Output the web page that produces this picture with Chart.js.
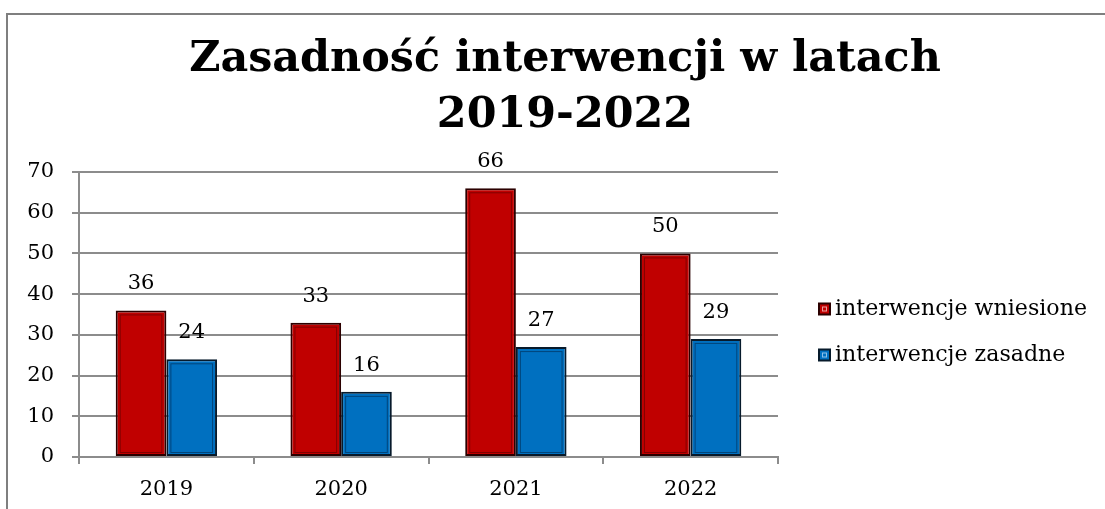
<!DOCTYPE html>
<html>
<head>
<meta charset="utf-8">
<script src="https://cdn.jsdelivr.net/npm/chart.js@4/dist/chart.umd.min.js"></script>
<style>
  html, body { margin: 0; padding: 0; background: #fff; overflow: hidden; width: 1105px; height: 509px; }
  #frame { position: absolute; left: 6px; top: 13px; width: 1200px; height: 600px; border: 2px solid #7f7f7f; box-sizing: border-box; }
  #c { position: absolute; left: 0; top: 0; }
</style>
</head>
<body>
<div id="frame"></div>
<canvas id="c" width="1130" height="509"></canvas>
<script>
const titleLines = ['Zasadność interwencji w latach', '2019-2022'];
const categories = ['2019', '2020', '2021', '2022'];
const seriesNames = ['interwencje wniesione', 'interwencje zasadne'];
const wniesione = [36, 33, 66, 50];
const zasadne = [24, 16, 27, 29];
const yTicks = [0, 10, 20, 30, 40, 50, 60, 70];

const FAMILY = '"DejaVu Serif", "Liberation Serif", serif';
const fillColors = ['#C00000', '#0070C0'];
const borderColors = ['#2b0000', '#071a2b'];
const innerColors = ['rgba(110,0,0,0.75)', 'rgba(0,55,100,0.75)'];
const legendInner = ['#e8a0a0', '#8cc0e8'];

function fitSize(text, weight, target) {
  const ctx = document.createElement('canvas').getContext('2d');
  ctx.font = weight + ' 100px ' + FAMILY;
  const w = ctx.measureText(text).width;
  return 100 * target / w;
}
const titleSize = fitSize(titleLines[0], 'bold', 752);
const legendSize = fitSize(seriesNames[0], 'normal', 252);

const dataLabelPlugin = {
  id: 'dataLabels',
  afterDatasetsDraw(chart) {
    const ctx = chart.ctx;
    ctx.save();
    chart.data.datasets.forEach((ds, di) => {
      const meta = chart.getDatasetMeta(di);
      meta.data.forEach((bar, i) => {
        const p = bar.getProps(['x', 'y', 'base', 'width'], true);
        const left = p.x - p.width / 2;
        ctx.strokeStyle = innerColors[di];
        ctx.lineWidth = 1;
        ctx.strokeRect(left + 4.5, p.y + 4.5, p.width - 9, p.base - p.y - 8);
        ctx.fillStyle = '#000';
        ctx.font = '21px ' + FAMILY;
        ctx.textAlign = 'center';
        ctx.textBaseline = 'alphabetic';
        ctx.fillText(String(ds.data[i]), p.x, p.y - 21);
      });
    });
    ctx.restore();
  }
};

const legendPlugin = {
  id: 'customLegend',
  afterDraw(chart) {
    const ctx = chart.ctx;
    ctx.save();
    const ys = [309, 355];
    chart.data.datasets.forEach((ds, di) => {
      const y = ys[di];
      const x = 818;
      const s = 13;
      ctx.fillStyle = borderColors[di];
      ctx.fillRect(x, y - s / 2, s, s);
      ctx.fillStyle = fillColors[di];
      ctx.fillRect(x + 2, y - s / 2 + 2, s - 4, s - 4);
      ctx.strokeStyle = legendInner[di];
      ctx.lineWidth = 1;
      ctx.strokeRect(x + 4.5, y - s / 2 + 4.5, s - 9, s - 9);
      ctx.fillStyle = '#000';
      ctx.font = legendSize.toFixed(2) + 'px ' + FAMILY;
      ctx.textAlign = 'left';
      ctx.textBaseline = 'middle';
      ctx.fillText(ds.label, 835, y);
    });
    ctx.restore();
  }
};

new Chart(document.getElementById('c'), {
  type: 'bar',
  data: {
    labels: categories,
    datasets: [
      { label: seriesNames[0], data: wniesione, backgroundColor: fillColors[0], borderColor: borderColors[0], borderWidth: 2, borderSkipped: false },
      { label: seriesNames[1], data: zasadne, backgroundColor: fillColors[1], borderColor: borderColors[1], borderWidth: 2, borderSkipped: false }
    ]
  },
  options: {
    responsive: false,
    animation: false,
    devicePixelRatio: 1,
    categoryPercentage: 0.58,
    barPercentage: 1.0,
    layout: { padding: 0 },
    plugins: {
      legend: { display: false },
      tooltip: { enabled: false },
      title: {
        display: true,
        text: titleLines,
        color: '#000',
        font: { family: FAMILY, weight: 'bold', size: titleSize, lineHeight: 56 / titleSize },
        padding: { top: 32, bottom: 28 }
      }
    },
    scales: {
      x: {
        grid: { offset: true, drawOnChartArea: false, color: '#8c8c8c', lineWidth: 2, tickLength: 7 },
        border: { color: '#8c8c8c', width: 2 },
        ticks: { color: '#000', font: { family: FAMILY, size: 21 }, padding: 13 },
        afterFit(scale) { scale.height = 52; }
      },
      y: {
        min: 0,
        max: 70,
        afterBuildTicks(scale) { scale.ticks = yTicks.map(v => ({ value: v })); },
        grid: { color: '#8c8c8c', lineWidth: 2, tickLength: 7 },
        border: { color: '#8c8c8c', width: 2 },
        ticks: { color: '#000', font: { family: FAMILY, size: 21 }, padding: 18 },
        afterFit(scale) { scale.width = 79; }
      },
      legendSpace: {
        type: 'linear',
        position: 'right',
        display: true,
        grid: { display: false },
        border: { display: false },
        ticks: { display: false },
        afterFit(scale) { scale.width = 352; }
      }
    }
  },
  plugins: [dataLabelPlugin, legendPlugin]
});
</script>
</body>
</html>
